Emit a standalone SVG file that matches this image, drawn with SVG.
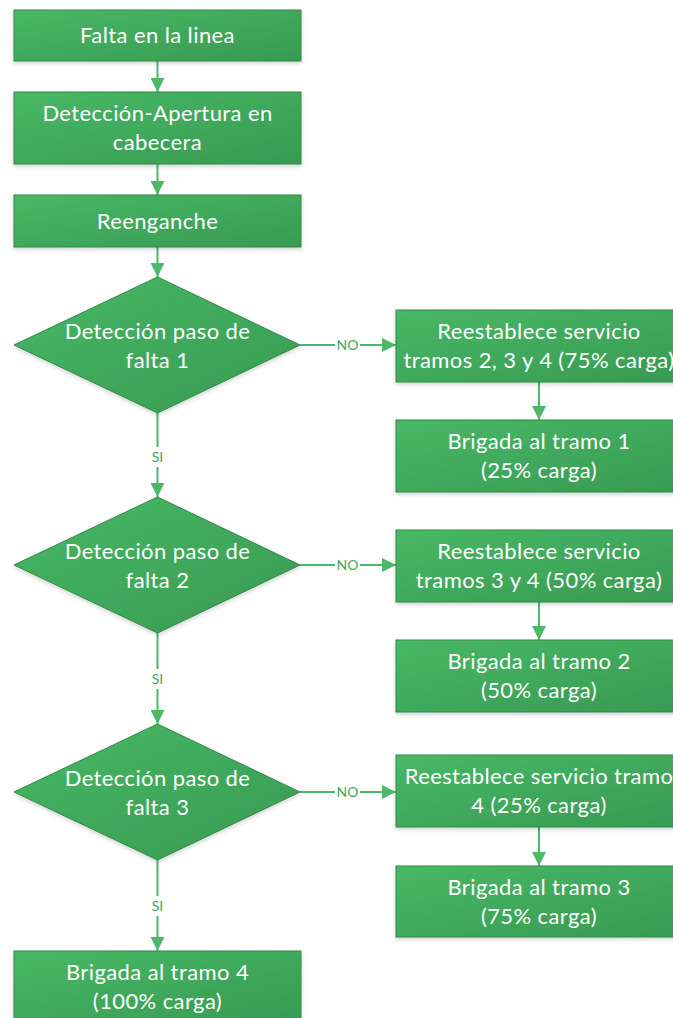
<svg xmlns="http://www.w3.org/2000/svg" width="673" height="1018" viewBox="0 0 673 1018">
<style>
.n{fill:url(#g);stroke:#2F8A47;stroke-width:1;filter:url(#sh)}
.t{font-family:Lato,"Open Sans","Liberation Sans",sans-serif;font-size:22px;letter-spacing:0.4px;fill:#fff;text-anchor:middle}
.c{stroke:#4DB86A;stroke-width:2;fill:none;marker-end:url(#a)}
.l{font-family:Lato,"Open Sans","Liberation Sans",sans-serif;font-size:14px;fill:#3DA85A;text-anchor:middle}
</style>
<defs>
<linearGradient id="g" x1="0" y1="0" x2="1" y2="1">
<stop offset="0" stop-color="#48B866"/>
<stop offset="1" stop-color="#389A52"/>
</linearGradient>
<filter id="sh" x="-10%" y="-10%" width="120%" height="130%">
<feDropShadow dx="0" dy="2" stdDeviation="2" flood-color="#000" flood-opacity="0.18"/>
</filter>
<marker id="a" markerWidth="14" markerHeight="14" refX="14" refY="7" orient="auto" markerUnits="userSpaceOnUse">
<path d="M0,0 L14,7 L0,14 Z" fill="#4DB86A"/>
</marker>
</defs>
<rect width="673" height="1018" fill="#fff"/>
<g id="connectors">
<line class="c" x1="157.5" y1="61" x2="157.5" y2="92"/>
<line class="c" x1="157.5" y1="164" x2="157.5" y2="195"/>
<line class="c" x1="157.5" y1="247" x2="157.5" y2="277"/>
<path class="c" d="M157.5,413 V447 M157.5,467 V497"/>
<path class="c" d="M157.5,633 V669 M157.5,689 V724"/>
<path class="c" d="M157.5,860 V896 M157.5,916 V951"/>
<path class="c" d="M300,345 H335 M360,345 H396"/>
<path class="c" d="M300,565 H335 M360,565 H396"/>
<path class="c" d="M300,792 H335 M360,792 H396"/>
<line class="c" x1="539" y1="382" x2="539" y2="420"/>
<line class="c" x1="539" y1="602" x2="539" y2="640"/>
<line class="c" x1="539" y1="827" x2="539" y2="866"/>
<text class="l" x="157.5" y="462">SI</text>
<text class="l" x="157.5" y="684">SI</text>
<text class="l" x="157.5" y="911">SI</text>
<text class="l" x="347.5" y="350">NO</text>
<text class="l" x="347.5" y="570">NO</text>
<text class="l" x="347.5" y="797">NO</text>
</g>
<g id="n1"><rect class="n" x="14" y="10" width="287" height="51"/><text class="t" x="157.5" y="43">Falta en la linea</text></g>
<g id="n2"><rect class="n" x="14" y="92" width="287" height="72"/><text class="t" x="157.5" y="121">Detección-Apertura en</text><text class="t" x="157.5" y="150">cabecera</text></g>
<g id="n3"><rect class="n" x="14" y="195" width="287" height="52"/><text class="t" x="157.5" y="229">Reenganche</text></g>
<g id="d1"><polygon class="n" points="157.5,277 300,345 157.5,413 14,345"/><text class="t" x="157.5" y="339">Detección paso de</text><text class="t" x="157.5" y="368">falta 1</text></g>
<g id="d2"><polygon class="n" points="157.5,497 300,565 157.5,633 14,565"/><text class="t" x="157.5" y="559">Detección paso de</text><text class="t" x="157.5" y="588">falta 2</text></g>
<g id="d3"><polygon class="n" points="157.5,724 300,792 157.5,860 14,792"/><text class="t" x="157.5" y="786">Detección paso de</text><text class="t" x="157.5" y="815">falta 3</text></g>
<g id="n4"><rect class="n" x="14" y="951" width="287" height="72"/><text class="t" x="157.5" y="980">Brigada al tramo 4</text><text class="t" x="157.5" y="1009">(100% carga)</text></g>
<g id="r1"><rect class="n" x="396" y="310" width="286" height="72"/><text class="t" x="539" y="339">Reestablece servicio</text><text class="t" x="539" y="368">tramos 2, 3 y 4 (75% carga)</text></g>
<g id="r2"><rect class="n" x="396" y="420" width="286" height="72"/><text class="t" x="539" y="449">Brigada al tramo 1</text><text class="t" x="539" y="478">(25% carga)</text></g>
<g id="r3"><rect class="n" x="396" y="530" width="286" height="72"/><text class="t" x="539" y="559">Reestablece servicio</text><text class="t" x="539" y="588">tramos 3 y 4 (50% carga)</text></g>
<g id="r4"><rect class="n" x="396" y="640" width="286" height="72"/><text class="t" x="539" y="669">Brigada al tramo 2</text><text class="t" x="539" y="698">(50% carga)</text></g>
<g id="r5"><rect class="n" x="396" y="755" width="286" height="72"/><text class="t" x="539" y="784">Reestablece servicio tramo</text><text class="t" x="539" y="813">4 (25% carga)</text></g>
<g id="r6"><rect class="n" x="396" y="866" width="286" height="71"/><text class="t" x="539" y="895">Brigada al tramo 3</text><text class="t" x="539" y="924">(75% carga)</text></g>
</svg>
